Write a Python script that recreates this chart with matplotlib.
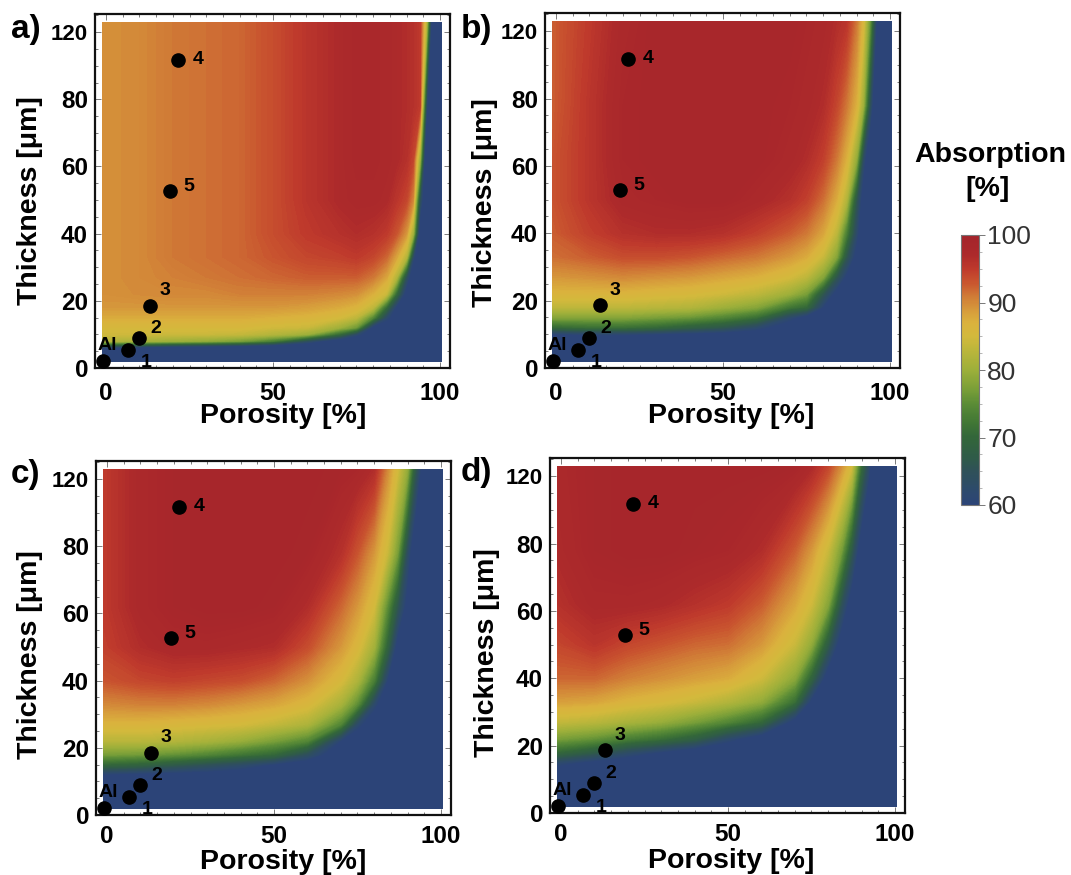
import matplotlib
matplotlib.use("Agg")
import matplotlib.pyplot as plt
import numpy as np
from matplotlib.colors import LinearSegmentedColormap, Normalize
from matplotlib.cm import ScalarMappable
from matplotlib.ticker import MultipleLocator

plt.rcParams["font.family"] = ["Liberation Sans", "DejaVu Sans"]

# grid of the simulated maps (porosity in %, thickness in um)
porosity = [-1, 10, 20, 30, 40, 50, 60, 70, 75, 80, 84, 87, 90, 92, 94, 96, 98, 100.5]
thickness = [2, 4, 6, 8, 10, 12, 15, 18, 22, 27, 33, 40, 50, 62, 78, 103]

# absorption [%], one row per thickness value
absorption_a = [
    [45] * 18,
    [50] * 18,
    [60, 58, 56, 55, 54, 52, 52, 52, 52, 52, 52, 52, 52, 52, 52, 52, 52, 52],
    [82, 81, 80, 79, 77, 73, 64, 56, 55, 54, 54, 54, 54, 54, 54, 54, 54, 54],
    [84.5, 84.5, 84, 84, 83.5, 82, 80, 70, 62, 57, 55, 55, 55, 55, 55, 55, 55, 55],
    [85.5, 85.5, 85.5, 85.5, 85.5, 84.5, 84, 80, 76, 58, 56, 56, 56, 56, 56, 56, 56, 56],
    [87.5, 87.5, 87.5, 87.5, 87.5, 87, 86.5, 85, 83, 74, 62, 57, 57, 57, 57, 57, 57, 57],
    [89, 89, 89, 89, 89, 89, 88.5, 87.5, 86.5, 83, 70, 59, 57, 57, 57, 57, 57, 57],
    [89.5, 89.8, 90, 90, 90.5, 90.5, 90.5, 90, 89.5, 87, 84, 70, 57, 55, 55, 55, 55, 55],
    [89.5, 90, 90.5, 91, 91.5, 92, 92.5, 92.5, 92.5, 91, 88, 82, 64, 55, 55, 55, 55, 55],
    [89.5, 90, 91, 91.5, 92, 93, 94, 94.5, 95, 94, 92, 88, 82, 62, 55, 55, 55, 55],
    [89.5, 90, 91, 91.5, 92, 93.5, 95, 96, 96.5, 96, 95, 93, 89, 80, 56, 55, 55, 55],
    [89.5, 90, 91, 91.5, 92, 93.5, 95.5, 97, 97.5, 97.5, 97, 95.5, 94, 90, 65, 52, 52, 52],
    [89.5, 90, 91, 91.5, 92, 93.5, 95.5, 97, 98, 98, 97.5, 97, 96, 94, 80, 50, 50, 50],
    [89.5, 90, 91, 91.5, 92, 93.5, 95.5, 97, 98, 98, 97.5, 97, 96.5, 96, 95, 62, 50, 50],
    [89.5, 90, 91, 91.5, 92, 93.5, 95.5, 97, 98, 98, 97.5, 97, 96.5, 96, 95, 82, 50, 50],
]

absorption_b = [
    [45] * 18,
    [50] * 18,
    [52] * 18,
    [56] * 18,
    [60, 61, 61, 60, 59, 58, 57, 56, 56, 56, 56, 56, 56, 56, 56, 56, 56, 56],
    [70, 71, 71, 70, 68, 66, 62, 57, 56, 56, 56, 56, 56, 56, 56, 56, 56, 56],
    [78, 78, 78, 77, 76, 74, 71, 62, 58, 57, 57, 57, 57, 57, 57, 57, 57, 57],
    [83, 83, 83, 82.5, 82, 80, 78, 72, 70, 60, 57, 57, 57, 57, 57, 57, 57, 57],
    [86.5, 86.5, 86.5, 86, 85.5, 84.5, 83, 80, 77, 66, 58, 56, 56, 56, 56, 56, 56, 56],
    [89, 89.5, 90, 89.5, 89, 88, 87, 85, 83, 78, 66, 59, 55, 55, 55, 55, 55, 55],
    [91.5, 92.5, 93.5, 93.5, 93, 92, 91, 89, 87.5, 84, 78, 66, 58, 55, 55, 55, 55, 55],
    [92.5, 94.5, 96, 96.5, 96.5, 96, 94.5, 92.5, 91, 88, 83, 73, 62, 55, 55, 55, 55, 55],
    [93, 95.5, 97.5, 98, 98.5, 98.5, 97.5, 96, 94.5, 91.5, 87.5, 82, 66, 57, 54, 54, 54, 54],
    [93, 95.5, 98, 98.5, 98.5, 98.5, 98.5, 97.5, 96.5, 94.5, 91, 87, 79, 63, 54, 52, 52, 52],
    [92.5, 95.5, 98, 98.5, 98.5, 98.5, 98.5, 98, 97.5, 96.5, 94, 91, 87, 80, 65, 52, 50, 50],
    [92.5, 95, 97.5, 98.5, 98.5, 98.5, 98.5, 98.5, 98, 97.5, 96.5, 95.5, 91, 86, 76, 60, 50, 50],
]

absorption_c = [
    [45] * 18,
    [50] * 18,
    [52] * 18,
    [54] * 18,
    [57, 56.5, 56, 55.5, 55, 55, 55, 55, 55, 55, 55, 55, 55, 55, 55, 55, 55, 55],
    [60, 59, 58.5, 58, 57, 56, 55, 55, 55, 55, 55, 55, 55, 55, 55, 55, 55, 55],
    [70, 69, 67, 65, 63, 60, 57, 55, 55, 55, 55, 55, 55, 55, 55, 55, 55, 55],
    [77, 76.5, 75.5, 74, 72, 70, 64, 56, 55, 55, 55, 55, 55, 55, 55, 55, 55, 55],
    [82.5, 82.5, 82, 81, 79.5, 77, 74, 60, 56, 55, 55, 55, 55, 55, 55, 55, 55, 55],
    [86.5, 86.5, 86, 85.5, 85, 83.5, 81.5, 74, 62, 56, 55, 55, 55, 55, 55, 55, 55, 55],
    [90, 90.5, 90.5, 90, 89, 88, 86, 81, 75, 62, 55, 55, 55, 55, 55, 55, 55, 55],
    [93, 94, 94.5, 94, 93.5, 92, 89.5, 85.5, 81.5, 73, 60, 55, 55, 55, 55, 55, 55, 55],
    [94.5, 96.5, 97.5, 97.5, 97, 96.5, 93.5, 89, 86, 80.5, 69, 58, 55, 54, 54, 54, 54, 54],
    [95, 97.5, 98.5, 99, 99, 98.5, 96.5, 92, 89, 85, 75, 66, 58, 54, 52, 52, 52, 52],
    [95, 97.5, 98.5, 99, 99, 99, 98.5, 96, 93, 89, 84, 77, 63, 56, 50, 50, 50, 50],
    [95, 97.5, 98.5, 99, 99, 99, 99, 98.5, 98, 96.5, 90, 85, 79, 68, 60, 50, 50, 50],
]

absorption_d = [
    [45] * 18,
    [50] * 18,
    [52] * 18,
    [54] * 18,
    [55] * 18,
    [57, 55, 55, 55, 55, 55, 55, 55, 55, 55, 55, 55, 55, 55, 55, 55, 55, 55],
    [62, 59, 57, 55, 55, 55, 55, 55, 55, 55, 55, 55, 55, 55, 55, 55, 55, 55],
    [70, 67, 63, 60, 57, 55, 55, 55, 55, 55, 55, 55, 55, 55, 55, 55, 55, 55],
    [77, 75.5, 73, 71, 68, 62, 57, 55, 55, 55, 55, 55, 55, 55, 55, 55, 55, 55],
    [83.5, 82.5, 81, 79.5, 77, 74, 70, 58, 55, 55, 55, 55, 55, 55, 55, 55, 55, 55],
    [88.5, 88, 86.5, 85.5, 84, 82, 79, 71, 59, 55, 55, 55, 55, 55, 55, 55, 55, 55],
    [92, 92, 90.5, 89.5, 88.5, 87.5, 84.5, 78.5, 69, 57, 55, 55, 55, 55, 55, 55, 55, 55],
    [94, 95.5, 94, 93, 92, 91.5, 89, 84, 79, 67, 57, 54, 54, 54, 54, 54, 54, 54],
    [96, 97.5, 97.5, 97, 96, 95, 92.5, 88, 84.5, 78, 65, 57, 52, 52, 52, 52, 52, 52],
    [97, 98.5, 99, 99, 98.5, 98, 96.5, 92.5, 89, 84, 77, 67, 56, 50, 50, 50, 50, 50],
    [97.5, 98.5, 99, 99, 99, 99, 99, 98.5, 97, 94, 89.5, 85, 70, 63, 52, 50, 50, 50],
]

# measured samples
sample_names = ["Al", "1", "2", "3", "4", "5"]
sample_porosity = [-0.8, 6.6, 9.8, 13.1, 21.7, 19.3]
sample_thickness = [2.2, 5.3, 8.9, 18.6, 91.8, 52.8]

# colour scale
scale_values = [60, 62, 65, 67, 70, 72, 75, 77, 80, 83, 85, 87, 89, 91, 93, 95, 97, 100]
scale_colors = ["#2c4478", "#2d4a6c", "#2f5158", "#2f5b48", "#33663a", "#3f7535",
                "#5b8c36", "#789e38", "#9daf3a", "#bcb63b", "#d3b93c", "#dab23d",
                "#d6993b", "#d07a36", "#c9552f", "#bf3a2c", "#ad2a2b", "#a3242b"]

y_ticks = [0, 20, 40, 60, 80, 100]
y_tick_labels = ["0", "20", "40", "60", "80", "120"]
x_ticks = [0, 50, 100]

W, H = 1071, 875
label_offsets = {"Al": (3, 11), "1": (13, -9), "2": (12, 7), "3": (11, 11), "4": (14, 0), "5": (13, 3)}

pos = [(s - scale_values[0]) / (scale_values[-1] - scale_values[0]) for s in scale_values]
cmap = LinearSegmentedColormap.from_list("absorption", list(zip(pos, scale_colors)))
cmap.set_under(scale_colors[0])
norm = Normalize(vmin=60, vmax=100)
levels = np.arange(60, 100.01, 0.25)

fig = plt.figure(figsize=(W / 100, H / 100), dpi=100)


def px_axes(left, top, right, bottom):
    return fig.add_axes([left / W, 1 - bottom / H, (right - left) / W, (bottom - top) / H])


def draw_panel(box, z, tag, tag_xy, xpad, xlab_xy, ylab_xy):
    ax = px_axes(*box)
    ax.contourf(porosity, thickness, np.array(z, dtype=float), levels=levels,
                cmap=cmap, norm=norm, extend="min", antialiased=False)
    ax.plot(sample_porosity, sample_thickness, "o", color="black", ms=9.5, clip_on=False, zorder=5)
    for name, px, py in zip(sample_names, sample_porosity, sample_thickness):
        ax.annotate(name, (px, py), xytext=label_offsets[name], textcoords="offset points",
                    ha="center", va="center", fontsize=14, fontweight="bold", zorder=6)
    ax.set_xlim(-3.3, 103)
    ax.set_ylim(0, 105.4)
    ax.set_xticks(x_ticks)
    ax.set_xticklabels([str(t) for t in x_ticks], fontsize=17.5, fontweight="bold")
    ax.set_yticks(y_ticks)
    ax.set_yticklabels(y_tick_labels, fontsize=17.5, fontweight="bold")
    ax.get_yticklabels()[-1].set_fontsize(16)
    ax.xaxis.set_minor_locator(MultipleLocator(5))
    ax.yaxis.set_minor_locator(MultipleLocator(5))
    ax.tick_params(which="both", direction="in", top=True, right=True, color="#666666", width=0.6)
    ax.tick_params(which="major", length=4)
    ax.tick_params(which="minor", length=2)
    ax.tick_params(axis="y", pad=5)
    ax.tick_params(axis="x", pad=xpad)
    for sp in ax.spines.values():
        sp.set_linewidth(1.6)
        sp.set_color("#111111")
    ax.set_xlabel("Porosity [%]", fontsize=20.5, fontweight="bold")
    ax.set_ylabel("Thickness [\u03bcm]", fontsize=20.5, fontweight="bold")
    ax.xaxis.set_label_coords(*xlab_xy)
    ax.yaxis.set_label_coords(*ylab_xy)
    fig.text(tag_xy[0] / W, 1 - tag_xy[1] / H, tag, fontsize=24, fontweight="bold",
             ha="left", va="top")
    return ax


draw_panel((95, 14, 450, 368), absorption_a, "a)", (11, 14), 10, (0.53, -0.098), (-0.146, 0.474))
draw_panel((545, 13, 900, 368), absorption_b, "b)", (461, 14), 10, (0.525, -0.098), (-0.132, 0.465))
draw_panel((96, 461, 451, 815), absorption_c, "c)", (11, 459), 7, (0.527, -0.096), (-0.149, 0.452))
draw_panel((550, 458, 905, 813), absorption_d, "d)", (461, 457), 7, (0.511, -0.098), (-0.141, 0.453))

cax = px_axes(961, 235, 979, 505)
cb = fig.colorbar(ScalarMappable(norm=norm, cmap=cmap), cax=cax, ticks=[60, 70, 80, 90, 100])
cb.outline.set_edgecolor("#777777")
cb.outline.set_linewidth(0.8)
cax.yaxis.set_minor_locator(MultipleLocator(2.5))
cax.tick_params(which="major", length=4, width=0.7, color="#777777", labelsize=19, labelcolor="#333333", pad=2)
cax.tick_params(which="minor", length=2, width=0.5, color="#999999")
fig.text(990 / W, 1 - 155 / H, "Absorption", fontsize=20.5, fontweight="bold", ha="center", va="center")
fig.text(988 / W, 1 - 189 / H, "[%]", fontsize=20.5, fontweight="bold", ha="center", va="center")

fig.savefig("out.png", dpi=100)
